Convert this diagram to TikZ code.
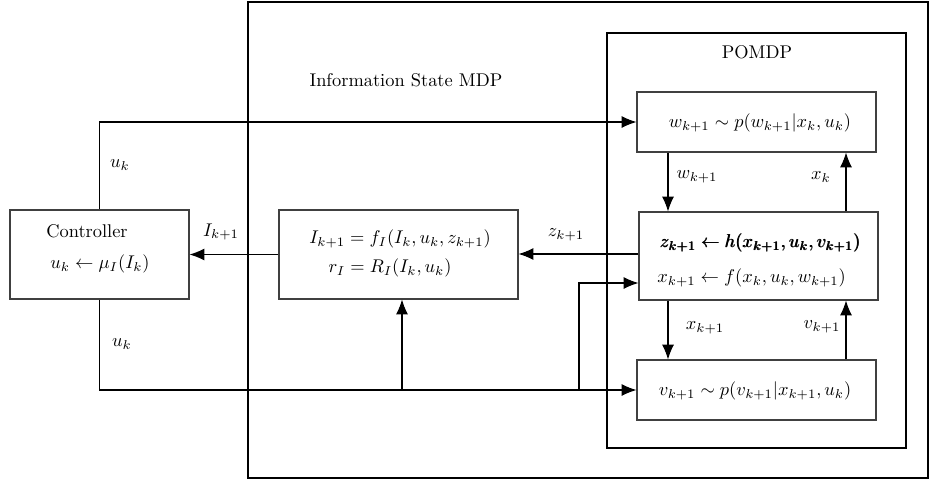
\documentclass[tikz,border=0pt]{standalone}
\usepackage{amsmath,amssymb}
\usetikzlibrary{arrows.meta}
\begin{document}
\begin{tikzpicture}[x=0.0191cm,y=-0.0191cm,
  box/.style={draw=black!75,line width=0.6pt,rectangle,inner sep=0pt},
  frame/.style={draw=black,line width=0.8pt},
  arr/.style={draw=black,line width=0.6pt,-{Latex[length=8pt,width=6.5pt]}},
  lbl/.style={inner sep=0pt}]
\useasboundingbox (0,0) rectangle (930,480);
% frames
\draw[frame] (248,2) rectangle (928,478);
\draw[frame] (607,33) rectangle (906,448);
\node[lbl] (mdpl) at (406,80) {Information State MDP};
\node[lbl] (pomdpl) at (757,52) {POMDP};
% boxes
\node[box,minimum width=179*0.0191cm,minimum height=89*0.0191cm] (ctrl) at (99.5,254.5) {};
\node[box,minimum width=239*0.0191cm,minimum height=89*0.0191cm] (info) at (398.5,254.5) {};
\node[box,minimum width=239*0.0191cm,minimum height=60*0.0191cm] (wbox) at (756.5,122) {};
\node[box,minimum width=239*0.0191cm,minimum height=88*0.0191cm] (hf) at (758.5,256) {};
\node[box,minimum width=239*0.0191cm,minimum height=60*0.0191cm] (vbox) at (756.5,390) {};
% box texts
\node[lbl] (ct1) at (87,231) {Controller};
\node[lbl] (ct2) at (100,264) {$u_k \leftarrow \mu_I(I_k)$};
\node[lbl] (it1) at (400,239) {$I_{k+1} = f_I(I_k, u_k, z_{k+1})$};
\node[lbl] (it2) at (390,268) {$r_I = R_I(I_k, u_k)$};
\node[lbl] (wt) at (760,123) {$w_{k+1} \sim p(w_{k+1}|x_k, u_k)$};
\node[lbl,anchor=west] (ht1) at (660,243) {$\pmb{z_{k+1} \leftarrow h(x_{k+1}, u_k, v_{k+1})}$};
\node[lbl,anchor=west] (ht2) at (657,278) {$x_{k+1} \leftarrow f(x_k, u_k, w_{k+1})$};
\node[lbl] (vt) at (755,391) {$v_{k+1} \sim p(v_{k+1}|x_{k+1}, u_k)$};
% coordinates
\coordinate (j1) at (402,390);
\coordinate (j2) at (579,390);
\coordinate (hfin) at (hf.west |- 0,283);
\coordinate (hfout) at (hf.west |- 0,254);
\coordinate (infoin) at (info.east |- 0,254);
\coordinate (wd) at (668,0);
\coordinate (xu) at (846,0);
% connectors
\draw[arr] (ctrl.north) |- (wbox.west);
\draw[arr] (ctrl.south) |- (vbox.west);
\draw[arr] (j1) -- (j1 |- info.south);
\draw[arr] (j2) |- (hfin);
\draw[arr] (hfout) -- (infoin);
\draw[arr] (info.west) -- (ctrl.east);
\draw[arr] (wd |- wbox.south) -- (wd |- hf.north);
\draw[arr] (xu |- hf.north) -- (xu |- wbox.south);
\draw[arr] (wd |- hf.south) -- (wd |- vbox.north);
\draw[arr] (xu |- vbox.north) -- (xu |- hf.south);
% connector labels
\node[lbl] (lu1) at (120,165) {$u_k$};
\node[lbl] (lu2) at (122,344) {$u_k$};
\node[lbl] (lI) at (221,232) {$I_{k+1}$};
\node[lbl] (lz) at (566,235) {$z_{k+1}$};
\node[lbl] (lw) at (697,177) {$w_{k+1}$};
\node[lbl] (lx) at (821,177) {$x_k$};
\node[lbl] (lx1) at (705,328) {$x_{k+1}$};
\node[lbl] (lv) at (822,327) {$v_{k+1}$};
\end{tikzpicture}
\end{document}
